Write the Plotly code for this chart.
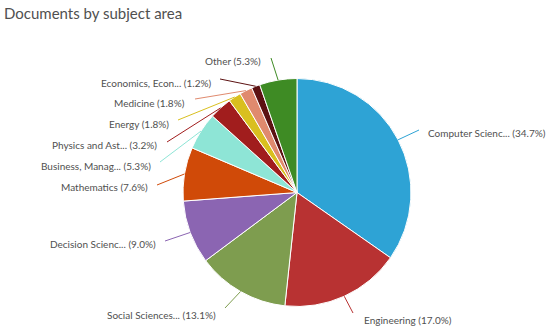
import math
import plotly.graph_objects as go

# ---- data ----
categories = [
    "Computer Scienc...", "Engineering", "Social Sciences...", "Decision Scienc...",
    "Mathematics", "Business, Manag...", "Physics and Ast...", "Energy",
    "Medicine", "Economics, Econ...", "Other",
]
shares = [34.7, 17.0, 13.1, 9.0, 7.6, 5.3, 3.2, 1.8, 1.8, 1.2, 5.3]
colors = [
    "#2ea3d5", "#b83232", "#7e9d4f", "#8b65b2", "#d04a08", "#8ee5d6",
    "#a11d1d", "#d9bf1f", "#e08a6e", "#5c1212", "#3e8b24",
]

# ---- layout (pixels in the 550x332 canvas) ----
W, H = 550, 332
CX, CY, R = 297, 192.5, 114
# label anchor: (x, y, side) ; line end near label
label_pos = [
    (426, 133, "left"), (362, 320, "left"), (218, 315, "right"), (158, 244, "right"),
    (150, 187, "right"), (153, 166, "right"), (159, 145, "right"), (171, 124, "right"),
    (187, 103, "right"), (213, 83, "right"), (263, 61, "right"),
]
line_end = [
    (419, 130), (353, 313), (225, 308), (165, 241), (157, 185), (160, 162),
    (167, 142), (178, 120), (195, 99), (220, 79), (271, 58),
]

def px(x):
    return x / W

def py(y):
    return 1 - y / H

fig = go.Figure(go.Pie(
    labels=categories,
    values=shares,
    sort=False,
    direction="clockwise",
    rotation=0,
    marker=dict(colors=colors, line=dict(color="white", width=1)),
    textinfo="none",
    hoverinfo="label+percent",
    domain=dict(x=[px(CX - R), px(CX + R)], y=[py(CY + R), py(CY - R)]),
    showlegend=False,
))

total = sum(shares)
cum = 0.0
shapes = []
annotations = []
for i, (cat, v) in enumerate(zip(categories, shares)):
    mid = (cum + v / 2) / total * 2 * math.pi
    cum += v
    sx = CX + R * math.sin(mid)
    sy = CY - R * math.cos(mid)
    ex, ey = line_end[i]
    shapes.append(dict(type="line", xref="paper", yref="paper",
                       x0=px(sx), y0=py(sy), x1=px(ex), y1=py(ey),
                       line=dict(color=colors[i], width=1)))
    lx, ly, side = label_pos[i]
    annotations.append(dict(
        xref="paper", yref="paper", x=px(lx), y=py(ly),
        xanchor=side, yanchor="middle", showarrow=False,
        text=f"{cat} ({v:.1f}%)",
        font=dict(family="Lato", size=10, color="#505050"),
    ))

annotations.append(dict(
    xref="paper", yref="paper", x=px(2), y=py(13), xanchor="left", yanchor="middle",
    showarrow=False, text="Documents by subject area",
    font=dict(family="Lato", size=15, color="#505050"),
))

fig.update_layout(
    width=W, height=H,
    margin=dict(l=0, r=0, t=0, b=0),
    paper_bgcolor="white", plot_bgcolor="white",
    shapes=shapes, annotations=annotations,
)

fig.write_html("out.html", config={"displayModeBar": False},
               post_script="document.body.style.margin='0';")
